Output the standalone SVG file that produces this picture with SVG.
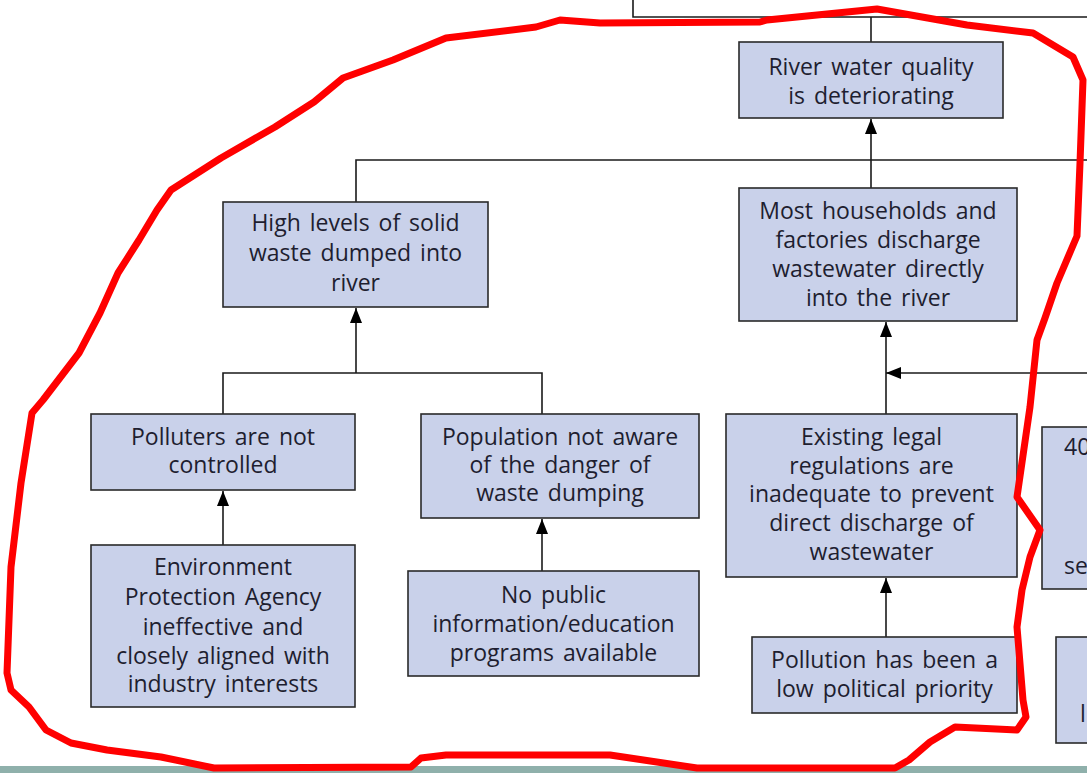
<svg xmlns="http://www.w3.org/2000/svg" width="1087" height="773" viewBox="0 0 1087 773">
<style>
.box{fill:#c9d1ea;stroke:#2a2a2a;stroke-width:1.6}
.t{font-family:"Open Sans",Lato,"DejaVu Sans",sans-serif;font-size:23px;fill:#1e1e30;text-anchor:middle;word-spacing:3px}
.ln{fill:none;stroke:#1a1a1a;stroke-width:1.6}
</style>
<defs>
<marker id="ah" viewBox="0 0 15 12" refX="15" refY="6" markerWidth="15" markerHeight="12" markerUnits="userSpaceOnUse" orient="auto">
<path d="M0,0 L15,6 L0,12 Z" fill="#000"/>
</marker>
</defs>
<rect x="0" y="0" width="1087" height="773" fill="#ffffff"/>
<g id="connectors">
<path class="ln" d="M633,0 V17 H1087"/>
<path class="ln" d="M871,17 V42"/>
<path class="ln" d="M356,202 V160 H1087"/>
<path class="ln" d="M871,188 V160"/>
<path class="ln" d="M871,160 V119" marker-end="url(#ah)"/>
<path class="ln" d="M223,414 V373 H542 V414"/>
<path class="ln" d="M356,373 V308" marker-end="url(#ah)"/>
<path class="ln" d="M886,414 V322" marker-end="url(#ah)"/>
<path class="ln" d="M1087,373 H886" marker-end="url(#ah)"/>
<path class="ln" d="M223,545 V491" marker-end="url(#ah)"/>
<path class="ln" d="M542,571 V519" marker-end="url(#ah)"/>
<path class="ln" d="M886,637 V578" marker-end="url(#ah)"/>
</g>
<g id="n1"><rect class="box" x="739" y="42" width="264" height="76"/>
<text class="t" x="871" y="75">River water quality</text><text class="t" x="871" y="104">is deteriorating</text></g>
<g id="n2"><rect class="box" x="223" y="202" width="265" height="105"/>
<text class="t" x="355.5" y="231">High levels of solid</text><text class="t" x="355.5" y="261">waste dumped into</text><text class="t" x="355.5" y="291">river</text></g>
<g id="n3"><rect class="box" x="739" y="188" width="278" height="133"/>
<text class="t" x="878" y="219">Most households and</text><text class="t" x="878" y="248">factories discharge</text><text class="t" x="878" y="277">wastewater directly</text><text class="t" x="878" y="306">into the river</text></g>
<g id="n4"><rect class="box" x="91" y="414" width="264" height="76"/>
<text class="t" x="223" y="445">Polluters are not</text><text class="t" x="223" y="473">controlled</text></g>
<g id="n5"><rect class="box" x="421" y="414" width="278" height="104"/>
<text class="t" x="560" y="445">Population not aware</text><text class="t" x="560" y="473">of the danger of</text><text class="t" x="560" y="501">waste dumping</text></g>
<g id="n6"><rect class="box" x="726" y="414" width="291" height="163"/>
<text class="t" x="871.5" y="445">Existing legal</text><text class="t" x="871.5" y="474">regulations are</text><text class="t" x="871.5" y="502">inadequate to prevent</text><text class="t" x="871.5" y="531">direct discharge of</text><text class="t" x="871.5" y="560">wastewater</text></g>
<g id="n7"><rect class="box" x="91" y="545" width="264" height="162"/>
<text class="t" x="223" y="575">Environment</text><text class="t" x="223" y="605">Protection Agency</text><text class="t" x="223" y="635">ineffective and</text><text class="t" x="223" y="664">closely aligned with</text><text class="t" x="223" y="692">industry interests</text></g>
<g id="n8"><rect class="box" x="408" y="571" width="291" height="105"/>
<text class="t" x="553.5" y="603">No public</text><text class="t" x="553.5" y="632">information/education</text><text class="t" x="553.5" y="661">programs available</text></g>
<g id="n9"><rect class="box" x="752" y="637" width="265" height="76"/>
<text class="t" x="884.5" y="668">Pollution has been a</text><text class="t" x="884.5" y="697">low political priority</text></g>
<g id="n10"><rect class="box" x="1042" y="427" width="60" height="162"/>
<text class="t" x="1064" y="455" style="text-anchor:start">40</text><text class="t" x="1064" y="574" style="text-anchor:start">se</text></g>
<g id="n11"><rect class="box" x="1056" y="637" width="50" height="106"/>
<text class="t" x="1080" y="722" style="text-anchor:start">l</text></g>
<rect x="0" y="766" width="1087" height="7" fill="#8fb0ab"/>
<path d="M560,20 L536,27 L446,38 L393,60 L343,78 L314,102 L275,127 L221,158 L171,190 L157,210 L139,240 L118,273 L100,313 L79,353 L43,400 L32,413 L21,483 L11,567 L7,673 L11,690 L29,707 L46,730 L71,743 L107,750 L161,757 L214,768 L411,767 L421,758 L446,755 L540,755 L610,755 L697,768 L895,768 L909,760 L930,742 L955,727 L1017,730 L1026,717 L1023,700 L1017,627 L1022,590 L1030,557 L1040,530 L1017,497 L1030,407 L1037,340 L1045,318 L1057,283 L1077,236 L1080,163 L1083,80 L1073,57 L1033,33 L967,25 L877,9 L767,20 L760,22 L600,23 Z" fill="none" stroke="#ff0000" stroke-width="7" stroke-linejoin="round" stroke-linecap="round"/>
</svg>
